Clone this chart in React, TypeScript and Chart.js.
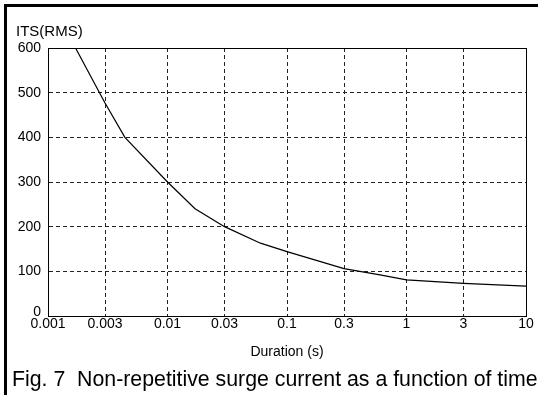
import React, { useEffect, useRef } from "react";
import { Chart, registerables } from "chart.js";

Chart.register(...registerables);

const durations = [0.0017, 0.003, 0.0044, 0.01, 0.017, 0.03, 0.06, 0.1, 0.3, 0.6, 1, 3, 10];
const currents = [600, 477, 400, 300, 240, 200, 163, 144, 106, 92, 81, 73, 67];
const xTickValues = [0.001, 0.003, 0.01, 0.03, 0.1, 0.3, 1, 3, 10];
const xTickLabels = ["0.001", "0.003", "0.01", "0.03", "0.1", "0.3", "1", "3", "10"];
const yTickValues = [0, 100, 200, 300, 400, 500, 600];
const yTickLabels = ["0", "100", "200", "300", "400", "500", "600"];

const FONT = "'Liberation Sans', Arial, Helvetica, sans-serif";

const framePlugin = {
  id: "frame",
  afterDraw(chart: any) {
    const { ctx, chartArea } = chart;
    ctx.save();
    ctx.strokeStyle = "#000";
    ctx.lineWidth = 1;
    ctx.setLineDash([]);
    ctx.strokeRect(
      Math.round(chartArea.left) + 0.5,
      Math.round(chartArea.top) + 0.5,
      Math.round(chartArea.right - chartArea.left),
      Math.round(chartArea.bottom - chartArea.top)
    );
    ctx.restore();
  },
};

export default function App() {
  const ref = useRef<HTMLCanvasElement | null>(null);

  useEffect(() => {
    if (!ref.current) return;
    const chart = new Chart(ref.current, {
      type: "line",
      data: {
        datasets: [
          {
            data: durations.map((d, i) => ({ x: d, y: currents[i] })),
            borderColor: "#000",
            borderWidth: 1.2,
            pointRadius: 0,
            tension: 0,
            fill: false,
          },
        ],
      },
      options: {
        animation: false,
        responsive: false,
        devicePixelRatio: 1,
        layout: { padding: { left: 0, top: 48, right: 12, bottom: 31 } },
        plugins: { legend: { display: false }, tooltip: { enabled: false } },
        scales: {
          x: {
            type: "logarithmic",
            min: 0.001,
            max: 10,
            afterBuildTicks: (s: any) => {
              s.ticks = xTickValues.map((v) => ({ value: v }));
            },
            afterFit: (s: any) => {
              s.height = 48;
            },
            ticks: {
              autoSkip: false,
              maxRotation: 0,
              padding: 0,
              color: "#000",
              font: { family: FONT, size: 14 },
              callback: (_v: any, i: number) => xTickLabels[i],
            },
            grid: { color: "#222", lineWidth: 1, drawTicks: false },
            border: { display: true, color: "#000", dash: [4, 3] },
            title: {
              display: true,
              text: "Duration (s)",
              color: "#000",
              font: { family: FONT, size: 14 },
              padding: { top: 0, bottom: 3 },
            },
          },
          y: {
            type: "linear",
            min: 0,
            max: 600,
            afterBuildTicks: (s: any) => {
              s.ticks = yTickValues.map((v) => ({ value: v }));
            },
            afterFit: (s: any) => {
              s.width = 48;
            },
            ticks: {
              autoSkip: false,
              padding: 7,
              color: "#000",
              font: { family: FONT, size: 14, lineHeight: 0.5 },
              callback: (_v: any, i: number) => (i === 0 ? [yTickLabels[i], ""] : yTickLabels[i]),
            },
            grid: { color: "#222", lineWidth: 1, drawTicks: false },
            border: { display: true, color: "#000", dash: [4, 3] },
          },
        },
      },
      plugins: [framePlugin],
    } as any);
    return () => chart.destroy();
  }, []);

  return (
    <div
      style={{
        position: "fixed",
        left: 0,
        top: 0,
        width: 538,
        height: 395,
        background: "#fff",
        overflow: "hidden",
        fontFamily: FONT,
      }}
    >
      <canvas ref={ref} width={538} height={395} style={{ position: "absolute", left: 0, top: 0 }} />
      <div style={{ position: "absolute", left: 4, top: 4, right: 0, height: 3, background: "#000" }} />
      <div style={{ position: "absolute", left: 4, top: 4, width: 3, bottom: 0, background: "#000" }} />
      <div
        style={{
          position: "absolute",
          left: 16,
          top: 22,
          fontSize: 15,
          lineHeight: "17px",
          color: "#000",
          whiteSpace: "nowrap",
        }}
      >
        ITS(RMS)
      </div>
      <div
        style={{
          position: "absolute",
          left: 12,
          top: 367,
          fontSize: 21.3,
          lineHeight: "24px",
          color: "#000",
          whiteSpace: "pre",
        }}
      >
        {"Fig. 7  Non-repetitive surge current as a function of time"}
      </div>
    </div>
  );
}
